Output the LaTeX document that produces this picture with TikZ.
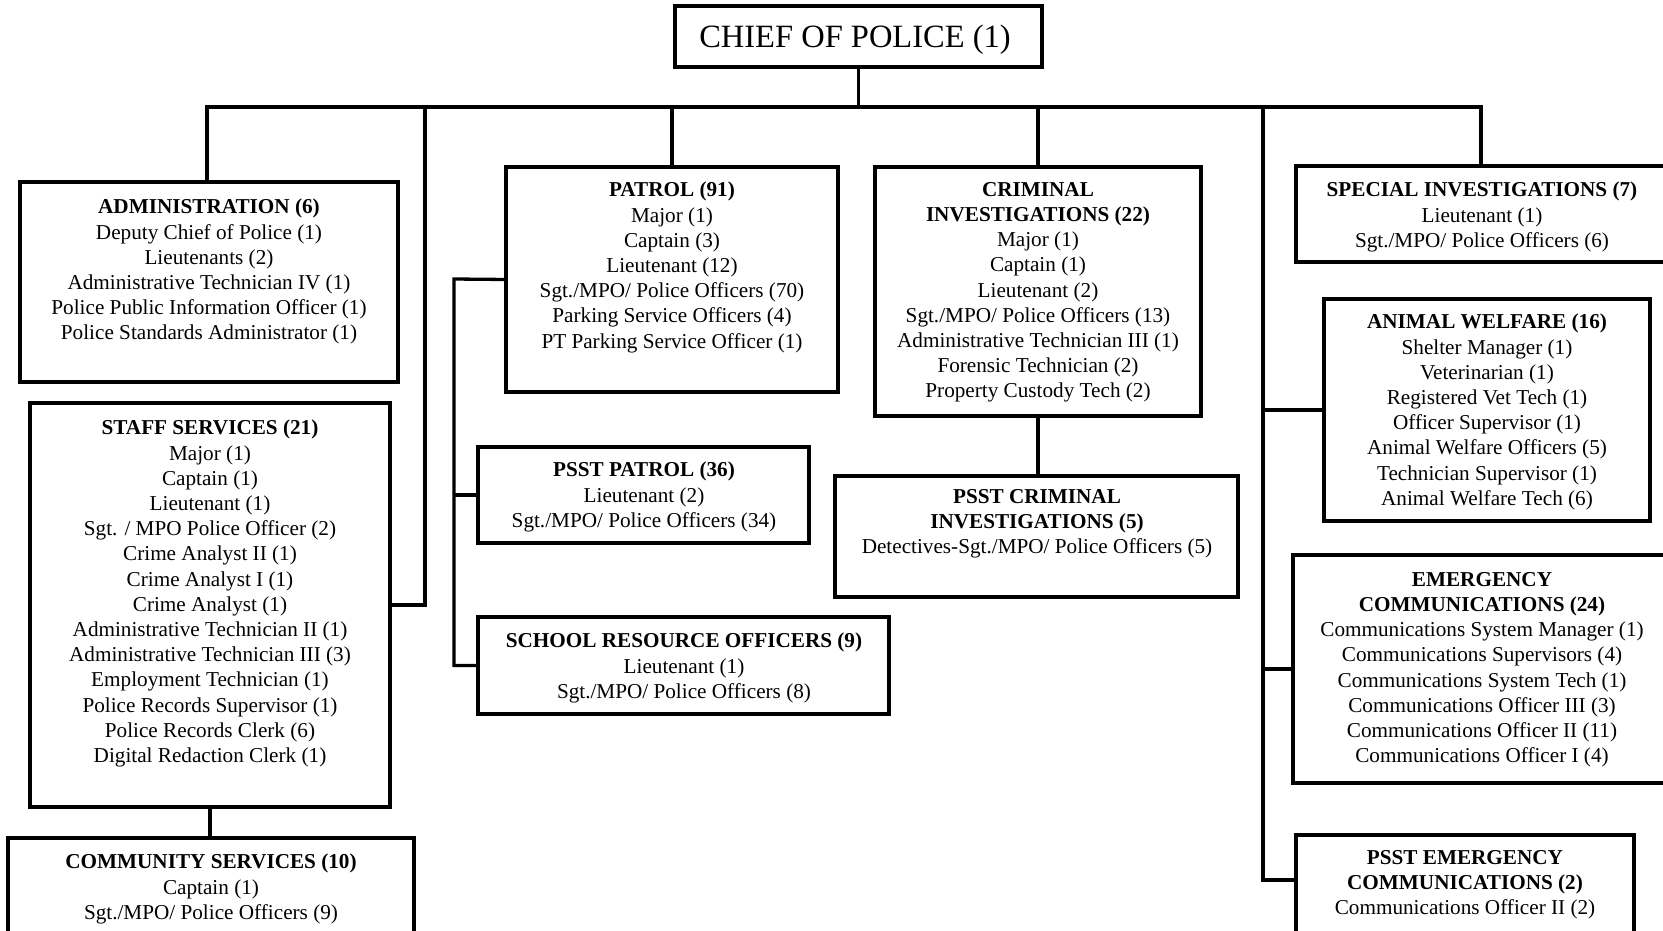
\documentclass[tikz,border=0pt]{standalone}
\usepackage{fontspec}
\setmainfont{Liberation Serif}
\begin{document}
\begin{tikzpicture}[x=1pt,y=-1pt,
  box/.style={draw, line width=4pt, inner sep=0pt, outer sep=0pt, anchor=north west},
  txt/.style={align=center, anchor=north, inner sep=0pt, font=\fontsize{21.2pt}{25.2pt}\selectfont},
  link/.style={line width=3.3pt, line join=miter}]
\useasboundingbox (0,0) rectangle (1663,931);
\clip (0,0) rectangle (1663,931);

% boxes
\node[box, minimum width=367pt, minimum height=61pt]  (chief)  at (675,6)   {};
\node[box, minimum width=378pt, minimum height=200pt] (admin)  at (20,182)  {};
\node[box, minimum width=360pt, minimum height=404pt] (staff)  at (30,403)  {};
\node[box, minimum width=406pt, minimum height=122pt] (comm)   at (8,838)   {};
\node[box, minimum width=332pt, minimum height=225pt] (patrol) at (506,167) {};
\node[box, minimum width=331pt, minimum height=96pt]  (psstp)  at (478,447) {};
\node[box, minimum width=411pt, minimum height=97pt]  (sro)    at (478,617) {};
\node[box, minimum width=326pt, minimum height=249pt] (crim)   at (875,167) {};
\node[box, minimum width=403pt, minimum height=121pt] (psstc)  at (835,476) {};
\node[box, minimum width=404pt, minimum height=96pt]  (si)     at (1296,166) {};
\node[box, minimum width=326pt, minimum height=222pt] (aw)     at (1324,299) {};
\node[box, minimum width=407pt, minimum height=228pt] (ec)     at (1293,555) {};
\node[box, minimum width=338pt, minimum height=125pt] (psste)  at (1296,835) {};

% connectors
\coordinate (busL) at (207,107);
\coordinate (busR) at (1481,107);
\coordinate (sj)   at (425,107);
\coordinate (rb)   at (1263,107);
\coordinate (pb)   at (454,279);

\draw[link] (chief.south) -- (chief.south |- busL);
\draw[link] (busL |- admin.north) -- (busL) -- (busR) -- (busR |- si.north);
\draw[link] (sj) |- (staff.east);
\draw[link] (staff.south) -- (staff.south |- comm.north);
\draw[link] (patrol.north |- busL) -- (patrol.north);
\draw[link] (patrol.west) -- (pb) -- (pb |- sro.west) -- (sro.west);
\draw[link] (pb |- psstp.west) -- (psstp.west);
\draw[link] (crim.north |- busL) -- (crim.north);
\draw[link] (crim.south) -- (crim.south |- psstc.north);
\draw[link] (rb) |- ([yshift=-45pt]psste.north west);
\draw[link] (rb |- aw.west) -- (aw.west);
\draw[link] (rb |- ec.west) -- (ec.west);

% labels
\node[font=\fontsize{32.5pt}{38pt}\selectfont, inner sep=0pt] (tchief) at (855,40) {CHIEF OF POLICE (1)};

\node[txt] (tadmin) at (209,199) {\textbf{ADMINISTRATION (6)}\\Deputy Chief of Police (1)\\Lieutenants (2)\\Administrative Technician IV (1)\\Police Public Information Officer (1)\\Police Standards Administrator (1)};

\node[txt] (tstaff) at (210,420) {\textbf{STAFF SERVICES (21)}\\Major (1)\\Captain (1)\\Lieutenant (1)\\Sgt. / MPO Police Officer (2)\\Crime Analyst II (1)\\Crime Analyst I (1)\\Crime Analyst (1)\\Administrative Technician II (1)\\Administrative Technician III (3)\\Employment Technician (1)\\Police Records Supervisor (1)\\Police Records Clerk (6)\\Digital Redaction Clerk (1)};

\node[txt] (tcomm) at (211,854) {\textbf{COMMUNITY SERVICES (10)}\\Captain (1)\\Sgt./MPO/ Police Officers (9)};

\node[txt] (tpatrol) at (672,182) {\textbf{PATROL (91)}\\Major (1)\\Captain (3)\\Lieutenant (12)\\Sgt./MPO/ Police Officers (70)\\Parking Service Officers (4)\\PT Parking Service Officer (1)};

\node[txt] (tpsstp) at (644,462) {\textbf{PSST PATROL (36)}\\Lieutenant (2)\\Sgt./MPO/ Police Officers (34)};

\node[txt] (tsro) at (684,633) {\textbf{SCHOOL RESOURCE OFFICERS (9)}\\Lieutenant (1)\\Sgt./MPO/ Police Officers (8)};

\node[txt] (tcrim) at (1038,182) {\textbf{CRIMINAL}\\\textbf{INVESTIGATIONS (22)}\\Major (1)\\Captain (1)\\Lieutenant (2)\\Sgt./MPO/ Police Officers (13)\\Administrative Technician III (1)\\Forensic Technician (2)\\Property Custody Tech (2)};

\node[txt] (tpsstc) at (1037,489) {\textbf{PSST CRIMINAL}\\\textbf{INVESTIGATIONS (5)}\\Detectives-Sgt./MPO/ Police Officers (5)};

\node[txt] (tsi) at (1482,182) {\textbf{SPECIAL INVESTIGATIONS (7)}\\Lieutenant (1)\\Sgt./MPO/ Police Officers (6)};

\node[txt] (taw) at (1487,314) {\textbf{ANIMAL WELFARE (16)}\\Shelter Manager (1)\\Veterinarian (1)\\Registered Vet Tech (1)\\Officer Supervisor (1)\\Animal Welfare Officers (5)\\Technician Supervisor (1)\\Animal Welfare Tech (6)};

\node[txt] (tec) at (1482,572) {\textbf{EMERGENCY}\\\textbf{COMMUNICATIONS (24)}\\Communications System Manager (1)\\Communications Supervisors (4)\\Communications System Tech (1)\\Communications Officer III (3)\\Communications Officer II (11)\\Communications Officer I (4)};

\node[txt] (tpsste) at (1465,850) {\textbf{PSST EMERGENCY}\\\textbf{COMMUNICATIONS (2)}\\Communications Officer II (2)};
\end{tikzpicture}
\end{document}
